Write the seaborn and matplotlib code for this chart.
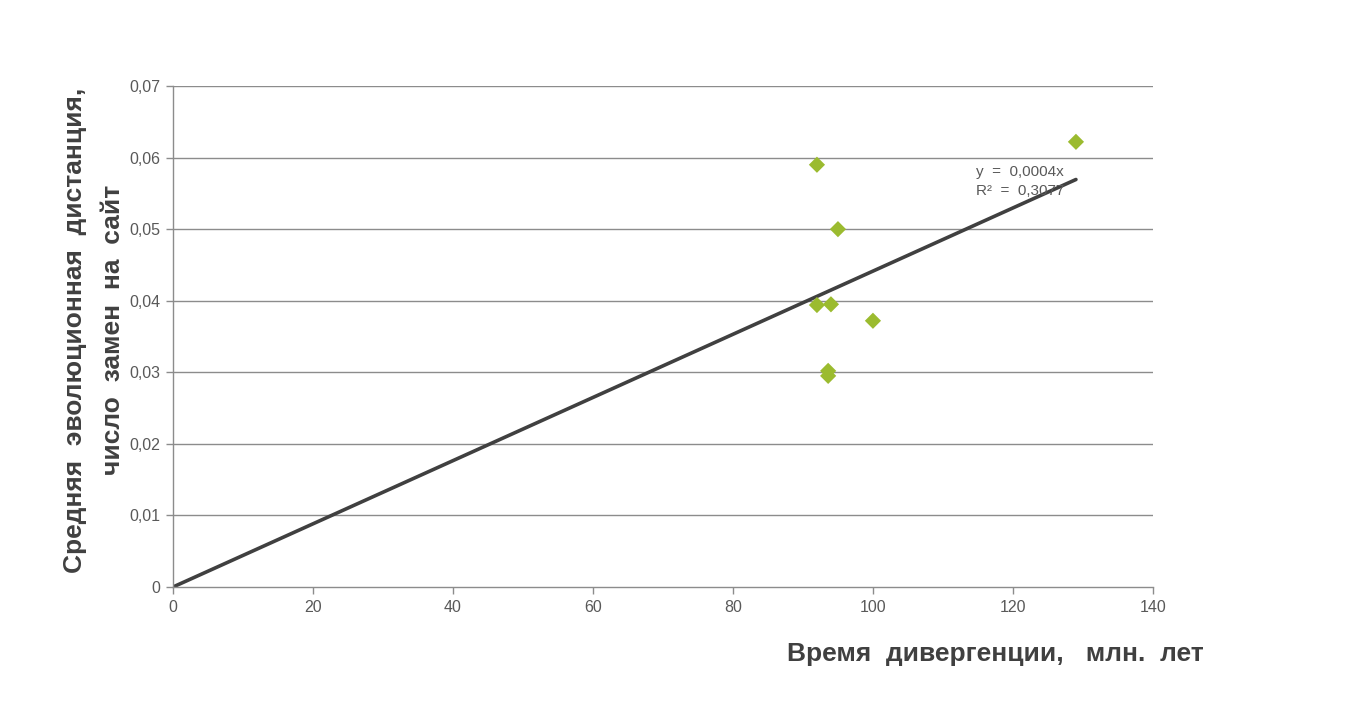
import numpy as np
import pandas as pd
import matplotlib
matplotlib.use("Agg")
import matplotlib.pyplot as plt
import seaborn as sns
from matplotlib.ticker import FuncFormatter

# Данные
div_time = [92.0, 129.0, 95.0, 92.0, 94.0, 100.0, 93.6, 93.6]
evo_dist = [0.0590, 0.0622, 0.0500, 0.0394, 0.0395, 0.0372, 0.0302, 0.0295]
x_ticks = [0, 20, 40, 60, 80, 100, 120, 140]
y_ticks = [0, 0.01, 0.02, 0.03, 0.04, 0.05, 0.06, 0.07]
eq_text = "y  =  0,0004x\nR²  =  0,3077"

df = pd.DataFrame({"x": div_time, "y": evo_dist})

sns.set_theme(style="white")
plt.rcParams['font.family'] = ['Liberation Sans', 'DejaVu Sans']

fig = plt.figure(figsize=(13.48, 7.24), dpi=100)
ax = fig.add_axes([0.1283, 0.1892, 0.727, 0.6920])

grid_c = "#8c8c8c"
for v in y_ticks[1:]:
    ax.axhline(v, color=grid_c, lw=1.0, zorder=0)

# Линия тренда через начало координат (МНК)
xs = np.array(div_time)
ys = np.array(evo_dist)
slope = np.sum(xs * ys) / np.sum(xs ** 2)
xl = np.array([0, xs.max()])
ax.plot(xl, slope * xl, color="#404040", lw=2.6, zorder=2, solid_capstyle="round")

sns.scatterplot(data=df, x="x", y="y", marker="D", s=68, color="#9bbb2f",
                edgecolor="none", zorder=3, ax=ax)

ax.text(114.7, 0.0589, eq_text, fontsize=11, color="#595959", va="top",
        ha="left", linespacing=1.45, zorder=4)

ax.set_xlim(0, 140)
ax.set_ylim(0, 0.07)
ax.set_xticks(x_ticks)
ax.set_yticks(y_ticks)
ax.yaxis.set_major_formatter(FuncFormatter(lambda v, p: "0" if v == 0 else f"{v:.2f}".replace(".", ",")))
ax.xaxis.set_major_formatter(FuncFormatter(lambda v, p: f"{v:.0f}"))

for s in ["top", "right"]:
    ax.spines[s].set_visible(False)
for s in ["left", "bottom"]:
    ax.spines[s].set_color(grid_c)
    ax.spines[s].set_linewidth(1.0)

ax.tick_params(axis="both", which="both", direction="out", length=5, width=1,
               color=grid_c, labelcolor="#595959", labelsize=11.5, pad=4)
ax.tick_params(axis="x", bottom=True)
ax.tick_params(axis="y", left=True)

ax.set_xlabel("")
ax.set_ylabel("")

fig.text(0.0695, 0.544, "Средняя  эволюционная  дистанция,\nчисло  замен  на  сайт",
         rotation=90, ha="center", va="center", fontsize=19, fontweight="bold",
         color="#404040", linespacing=1.75)
fig.text(0.893, 0.097, "Время  дивергенции,   млн.  лет", ha="right", va="center",
         fontsize=19, fontweight="bold", color="#404040")

fig.savefig("out.png", dpi=100)
